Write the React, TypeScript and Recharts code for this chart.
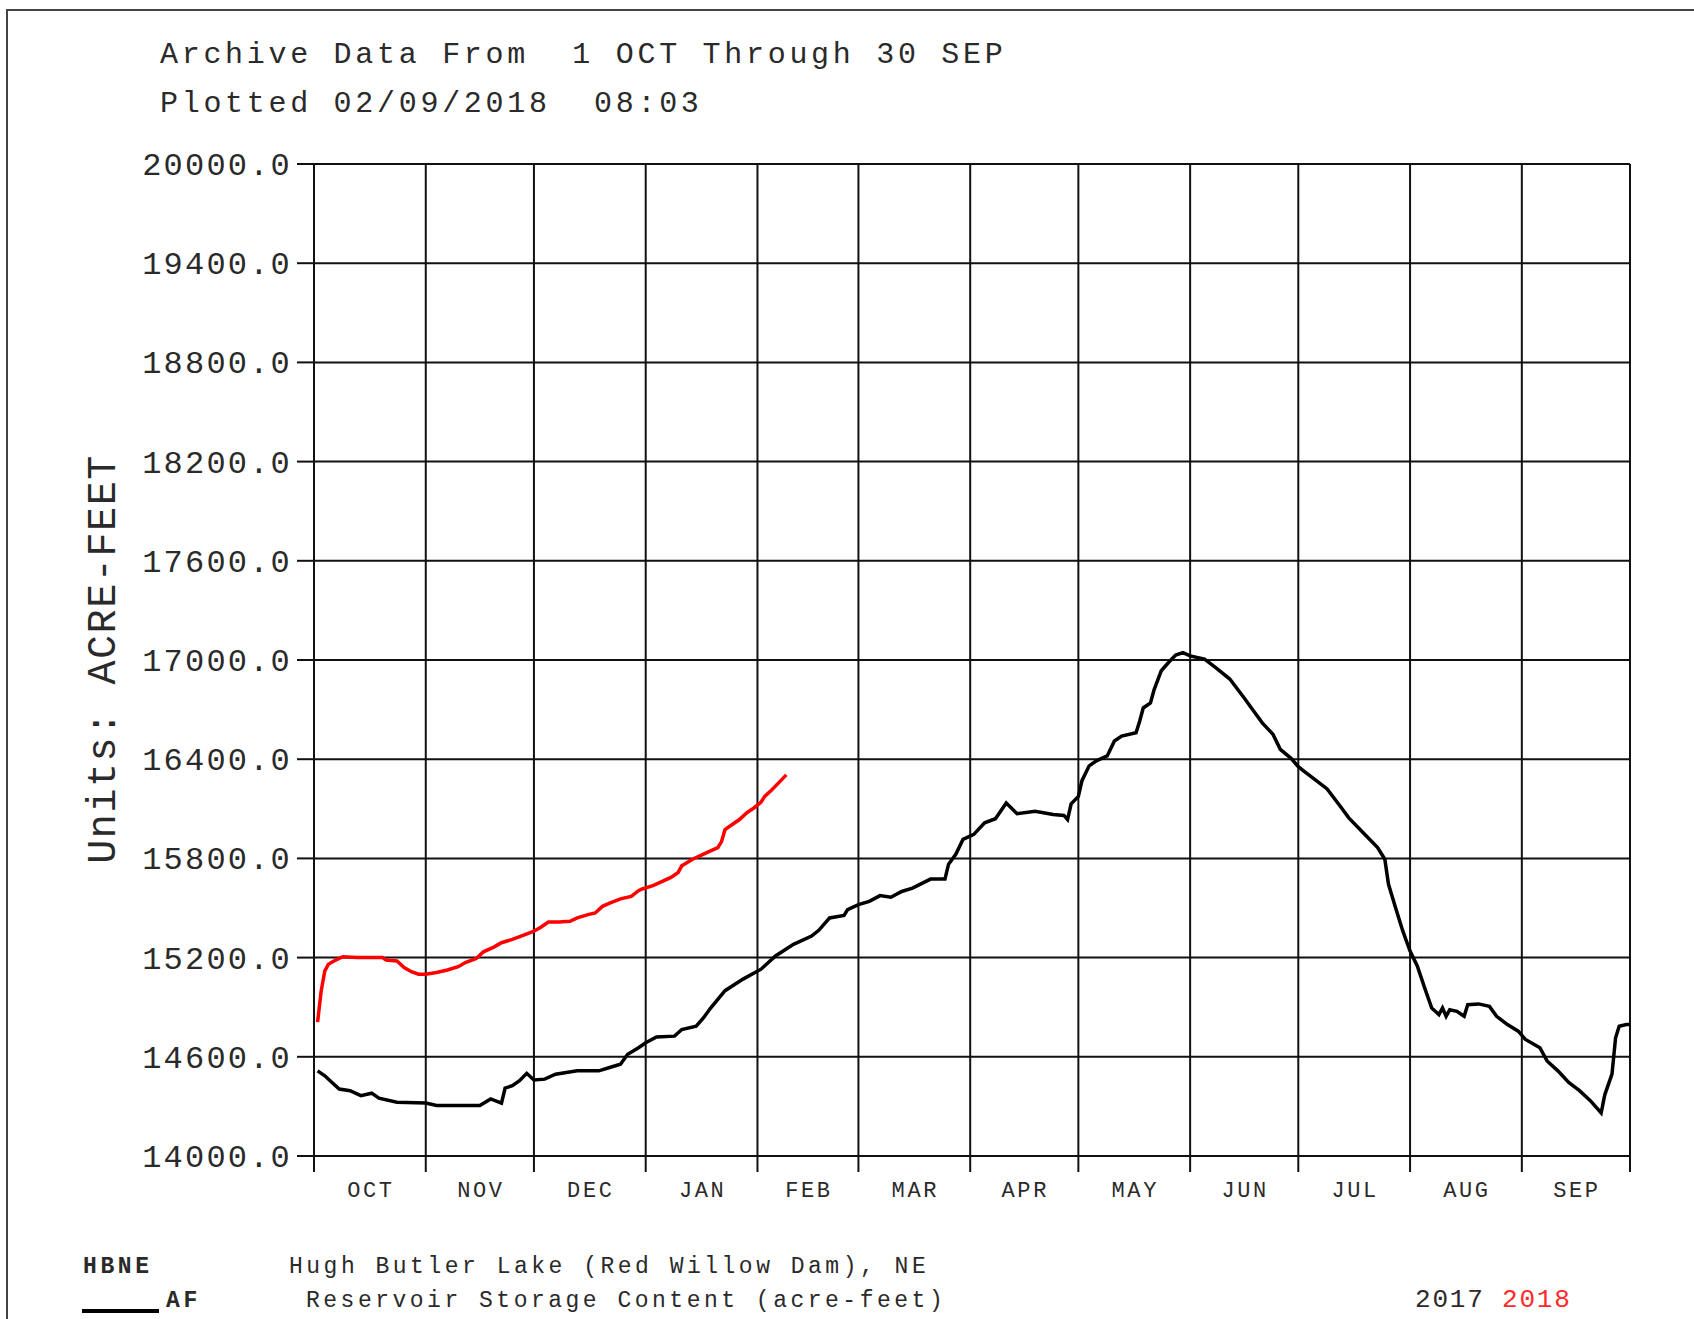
import { CartesianGrid, Line, LineChart, ReferenceLine, XAxis, YAxis } from "recharts";

// water year axis: day 0 = 1 OCT, day 365 = 30 SEP
const MONTH_STARTS = [0, 31, 61, 92, 123, 151, 182, 212, 243, 273, 304, 335, 365];
const MONTH_LABELS = ["OCT", "NOV", "DEC", "JAN", "FEB", "MAR", "APR", "MAY", "JUN", "JUL", "AUG", "SEP"];
const Y_TICKS = [14000, 14600, 15200, 15800, 16400, 17000, 17600, 18200, 18800, 19400, 20000];

const DAYS_2017 = [
  1, 3, 5, 7, 10, 13, 16, 18, 23, 31, 34, 46, 49, 52, 53, 55, 57, 59, 61, 64, 67, 73, 79, 82, 85, 87, 90, 92, 95,
  100, 102, 106, 108, 110, 114, 119, 124, 128, 133, 138, 140, 143, 147, 148, 151, 154, 157, 160, 163, 166, 171,
  175, 176, 178, 180, 183, 186, 189, 192, 195, 200, 205, 208, 209, 210, 212, 213, 215, 217, 220, 222, 224, 228,
  229, 230, 232, 233, 235, 237, 239, 241, 243, 247, 250, 254, 258, 260, 263, 266, 268, 271, 273, 275, 278, 281,
  285, 287, 291, 295, 297, 298, 300, 302, 304, 306, 308, 310, 311, 312, 313, 314, 315, 317, 319, 320, 323, 326,
  328, 331, 334, 336, 340, 342, 345, 348, 351, 354, 357, 358, 360, 361, 362, 364, 365,
];
const AF_2017 = [
  14515, 14485, 14445, 14405, 14395, 14365, 14380, 14350, 14325, 14320, 14305, 14305, 14345, 14320, 14410, 14425,
  14455, 14500, 14460, 14465, 14495, 14515, 14515, 14535, 14555, 14615, 14655, 14685, 14720, 14725, 14765, 14785,
  14835, 14895, 15000, 15070, 15130, 15210, 15280, 15330, 15365, 15440, 15455, 15490, 15520, 15540, 15575, 15565,
  15600, 15620, 15675, 15675, 15765, 15825, 15915, 15945, 16015, 16040, 16135, 16070, 16085, 16065, 16060, 16035,
  16130, 16175, 16270, 16360, 16390, 16420, 16510, 16540, 16560, 16630, 16710, 16740, 16820, 16935, 16985, 17030,
  17045, 17025, 17005, 16955, 16885, 16770, 16710, 16620, 16550, 16460, 16405, 16355, 16320, 16270, 16220, 16105,
  16045, 15955, 15865, 15795, 15645, 15500, 15360, 15240, 15150, 15020, 14895, 14875, 14855, 14895, 14845, 14885,
  14875, 14845, 14915, 14920, 14905, 14845, 14795, 14755, 14705, 14655, 14575, 14515, 14445, 14395, 14335, 14260,
  14370, 14495, 14715, 14785, 14795, 14795,
];

const DAYS_2018 = [
  1, 2, 3, 4, 6, 8, 12, 19, 20, 23, 25, 27, 29, 31, 34, 37, 40, 42, 45, 47, 50, 52, 55, 58, 61, 63, 65, 68, 71, 73,
  76, 78, 80, 82, 85, 88, 90, 91, 94, 96, 99, 101, 102, 105, 107, 110, 112, 113, 114, 116, 118, 120, 122, 124, 125,
  127, 129, 131,
];
const AF_2018 = [
  14810, 15000, 15120, 15160, 15185, 15205, 15200, 15200, 15185, 15180, 15140, 15115, 15100, 15100, 15110, 15125,
  15145, 15170, 15195, 15235, 15265, 15290, 15310, 15335, 15360, 15385, 15415, 15415, 15420, 15440, 15460, 15470,
  15510, 15530, 15555, 15570, 15605, 15615, 15635, 15655, 15685, 15715, 15755, 15795, 15815, 15845, 15865, 15900,
  15975, 16005, 16035, 16075, 16105, 16140, 16175, 16215, 16260, 16305,
];

const series2017 = DAYS_2017.map((day, i) => ({ day, af: AF_2017[i] }));
const series2018 = DAYS_2018.map((day, i) => ({ day, af: AF_2018[i] }));
const monthMids = MONTH_LABELS.map((_, i) => (MONTH_STARTS[i] + MONTH_STARTS[i + 1]) / 2);

const FONT = "'Liberation Mono', 'Courier New', monospace";
const INK = "#111";
const TEXT = "#2a2a2a";

function ValueTick({ x, y, payload }: any) {
  return (
    <text x={x} y={y + 11} textAnchor="end" fontFamily={FONT} fontSize={32} letterSpacing={2.2} fill={TEXT}>
      {Number(payload.value).toFixed(1)}
    </text>
  );
}

function MonthTick({ x, y, payload }: any) {
  const idx = monthMids.indexOf(payload.value);
  return (
    <text x={x + 1} y={y + 15} textAnchor="middle" fontFamily={FONT} fontSize={22} letterSpacing={2.6} fill={TEXT}>
      {MONTH_LABELS[idx]}
    </text>
  );
}

function NoLabel() {
  return <g />;
}

export default function App() {
  return (
    <div style={{ position: "absolute", left: 0, top: 0, width: 1694, height: 1319, background: "#fff", overflow: "hidden" }}>
      <LineChart width={1694} height={1319} margin={{ top: 164, right: 64, bottom: 87, left: 134 }}>
        <CartesianGrid stroke={INK} strokeWidth={2} vertical={false} />
        <XAxis
          xAxisId={0}
          type="number"
          dataKey="day"
          domain={[0, 365]}
          ticks={MONTH_STARTS}
          interval={0}
          allowDataOverflow
          height={16}
          tickSize={16}
          tick={<NoLabel />}
          axisLine={{ stroke: INK, strokeWidth: 2 }}
          tickLine={{ stroke: INK, strokeWidth: 2 }}
        />
        <XAxis
          xAxisId={1}
          type="number"
          dataKey="day"
          domain={[0, 365]}
          ticks={monthMids}
          interval={0}
          allowDataOverflow
          height={60}
          tickSize={8}
          tickMargin={2}
          tickLine={false}
          axisLine={false}
          tick={<MonthTick />}
        />
        <YAxis
          type="number"
          domain={[14000, 20000]}
          ticks={Y_TICKS}
          interval={0}
          allowDataOverflow
          width={180}
          tickSize={17}
          tickMargin={5}
          tick={<ValueTick />}
          axisLine={{ stroke: INK, strokeWidth: 2 }}
          tickLine={{ stroke: INK, strokeWidth: 2 }}
        />
        {MONTH_STARTS.map((d) => (
          <ReferenceLine key={d} xAxisId={0} x={d} stroke={INK} strokeWidth={2} />
        ))}
        <Line
          xAxisId={0}
          data={series2017}
          dataKey="af"
          type="linear"
          stroke="#000"
          strokeWidth={3.5}
          dot={false}
          isAnimationActive={false}
        />
        <Line
          xAxisId={0}
          data={series2018}
          dataKey="af"
          type="linear"
          stroke="#ff0000"
          strokeWidth={3.5}
          dot={false}
          isAnimationActive={false}
        />
      </LineChart>

      <svg width={1694} height={1319} style={{ position: "absolute", left: 0, top: 0, pointerEvents: "none" }}>
        <line x1={6} y1={10} x2={1694} y2={10} stroke="#444" strokeWidth={2} />
        <line x1={7} y1={10} x2={7} y2={1319} stroke="#444" strokeWidth={2} />

        <g fontFamily={FONT} fill={TEXT}>
          <text x={160} y={63} fontSize={30} letterSpacing={3.7} xmlSpace="preserve">
            Archive Data From  1 OCT Through 30 SEP
          </text>
          <text x={160} y={112} fontSize={30} letterSpacing={3.7} xmlSpace="preserve">
            Plotted 02/09/2018  08:03
          </text>

          <text x={115} y={659} fontSize={40} letterSpacing={1.6} textAnchor="middle" transform="rotate(-90 115 659)">
            Units: ACRE-FEET
          </text>

          <text x={83} y={1273} fontSize={23} letterSpacing={3.6} fontWeight="bold">
            HBNE
          </text>
          <text x={289} y={1273} fontSize={23} letterSpacing={3.5}>
            Hugh Butler Lake (Red Willow Dam), NE
          </text>
          <line x1={82} y1={1311} x2={159} y2={1311} stroke="#000" strokeWidth={4} />
          <text x={166} y={1307} fontSize={23} letterSpacing={3.6} fontWeight="bold">
            AF
          </text>
          <text x={306} y={1307} fontSize={23} letterSpacing={3.5}>
            Reservoir Storage Content (acre-feet)
          </text>
          <text x={1415} y={1307} fontSize={26} letterSpacing={1.8} xmlSpace="preserve">
            2017 <tspan fill="#ff2a2a">2018</tspan>
          </text>
        </g>
      </svg>
    </div>
  );
}
